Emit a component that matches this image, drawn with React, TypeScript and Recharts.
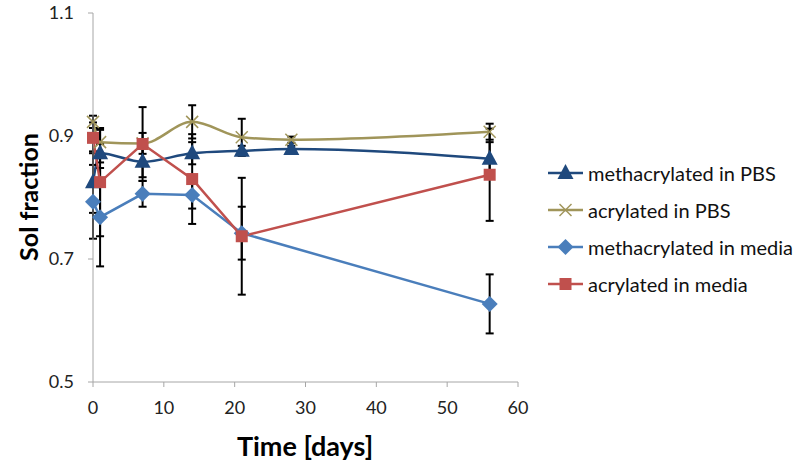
import React from 'react';
import { LineChart, Line, XAxis, YAxis, ErrorBar, Legend, Label } from 'recharts';

const days = [0, 1, 7, 14, 21, 28, 56];
const mediaDays = [0, 1, 7, 14, 21, 56];

const methPBS = [0.825, 0.872, 0.858, 0.872, 0.876, 0.879, 0.863];
const methPBSErr = [0.05, 0.015, 0.025, 0.018, 0.008, 0.005, 0.027];
const acrPBS = [0.923, 0.89, 0.888, 0.923, 0.898, 0.894, 0.907];
const acrPBSErr = [0.01, 0.02, 0.017, 0.027, 0.03, 0.005, 0.013];
const methMedia = [0.793, 0.768, 0.806, 0.804, 0.742, 0.627];
const methMediaErr = [0.06, 0.08, 0.021, 0.022, 0.043, 0.048];
const acrMedia = [0.897, 0.825, 0.887, 0.83, 0.737, 0.837];
const acrMediaErr = [0.025, 0.088, 0.06, 0.073, 0.095, 0.075];

const xTicks = [0, 10, 20, 30, 40, 50, 60];
const yTicks = [0.5, 0.7, 0.9, 1.1];

const toRows = (xs: number[], ys: number[], errs: number[]) =>
  xs.map((day, i) => ({ day, value: ys[i], err: errs[i] }));

const font = 'Lato, "Open Sans", sans-serif';

type MarkerKind = 'triangle' | 'x' | 'diamond' | 'square';

const Marker = ({ kind, cx, cy, color }: { kind: MarkerKind; cx: number; cy: number; color: string }) => {
  if (kind === 'triangle')
    return <polygon points={`${cx},${cy - 9} ${cx + 8},${cy + 6} ${cx - 8},${cy + 6}`} fill={color} />;
  if (kind === 'diamond')
    return <polygon points={`${cx},${cy - 8} ${cx + 8},${cy} ${cx},${cy + 8} ${cx - 8},${cy}`} fill={color} />;
  if (kind === 'square') return <rect x={cx - 6} y={cy - 6} width={12} height={12} fill={color} />;
  return (
    <g stroke={color} strokeWidth={1.5}>
      <line x1={cx - 6} y1={cy - 6} x2={cx + 6} y2={cy + 6} />
      <line x1={cx - 6} y1={cy + 6} x2={cx + 6} y2={cy - 6} />
    </g>
  );
};

const series = [
  { name: 'methacrylated in PBS', data: toRows(days, methPBS, methPBSErr), color: '#1F497D', kind: 'triangle' as MarkerKind, curve: 'monotone' },
  { name: 'acrylated in PBS', data: toRows(days, acrPBS, acrPBSErr), color: '#A0955A', kind: 'x' as MarkerKind, curve: 'monotone' },
  { name: 'methacrylated in media', data: toRows(mediaDays, methMedia, methMediaErr), color: '#4A7EBB', kind: 'diamond' as MarkerKind, curve: 'linear' },
  { name: 'acrylated in media', data: toRows(mediaDays, acrMedia, acrMediaErr), color: '#C0504D', kind: 'square' as MarkerKind, curve: 'linear' },
];

const LegendBox = () => (
  <div style={{ fontFamily: font, fontSize: 20, color: '#111' }}>
    {series.map((s) => (
      <div key={s.name} style={{ display: 'flex', alignItems: 'center', height: 37 }}>
        <svg width={40} height={20}>
          <line x1={2} y1={10} x2={37} y2={10} stroke={s.color} strokeWidth={2.5} />
          <Marker kind={s.kind} cx={19.5} cy={10} color={s.color} />
        </svg>
        <span style={{ marginLeft: 2 }}>{s.name}</span>
      </div>
    ))}
  </div>
);

const YTitle = () => (
  <text
    x={28}
    y={197}
    transform="rotate(-90 28 197)"
    textAnchor="middle"
    dominantBaseline="central"
    style={{ fontFamily: font, fontSize: 25, fontWeight: 700, fill: '#000' }}
  >
    Sol fraction
  </text>
);

const XTitle = () => (
  <text
    x={305}
    y={456}
    textAnchor="middle"
    style={{ fontFamily: font, fontSize: 27, fontWeight: 700, fill: '#000' }}
  >
    Time [days]
  </text>
);

export default function App() {
  const tick = { fontSize: 18, fill: '#222', fontFamily: font };
  return (
    <div style={{ position: 'absolute', left: 0, top: 0, width: 800, height: 467, background: '#fff' }}>
      <LineChart width={800} height={467} margin={{ top: 13, right: 282, bottom: 0, left: 0 }}>
        <XAxis
          type="number"
          dataKey="day"
          domain={[0, 60]}
          ticks={xTicks}
          allowDuplicatedCategory={false}
          height={85}
          tick={tick}
          stroke="#A6A6A6"
          tickSize={5}
          tickMargin={14}
        >
          <Label content={() => <XTitle />} />
        </XAxis>
        <YAxis
          type="number"
          domain={[0.5, 1.1]}
          ticks={yTicks}
          width={93}
          tick={tick}
          stroke="#A6A6A6"
          tickSize={5}
          tickMargin={14}
        >
          <Label content={() => <YTitle />} />
        </YAxis>
        <Legend
          layout="vertical"
          align="center"
          verticalAlign="middle"
          content={() => <LegendBox />}
          wrapperStyle={{ left: 546, top: 154, width: 254 }}
        />
        {series.map((s) => (
          <Line
            key={s.name}
            name={s.name}
            data={s.data}
            dataKey="value"
            type={s.curve as 'monotone' | 'linear'}
            stroke={s.color}
            strokeWidth={2.5}
            isAnimationActive={false}
            dot={(p: any) => <Marker key={`${s.name}-${p.index}`} kind={s.kind} cx={p.cx} cy={p.cy} color={s.color} />}
            activeDot={false}
          >
            <ErrorBar dataKey="err" direction="y" width={4} stroke="#000" strokeWidth={2} />
          </Line>
        ))}
      </LineChart>
    </div>
  );
}
